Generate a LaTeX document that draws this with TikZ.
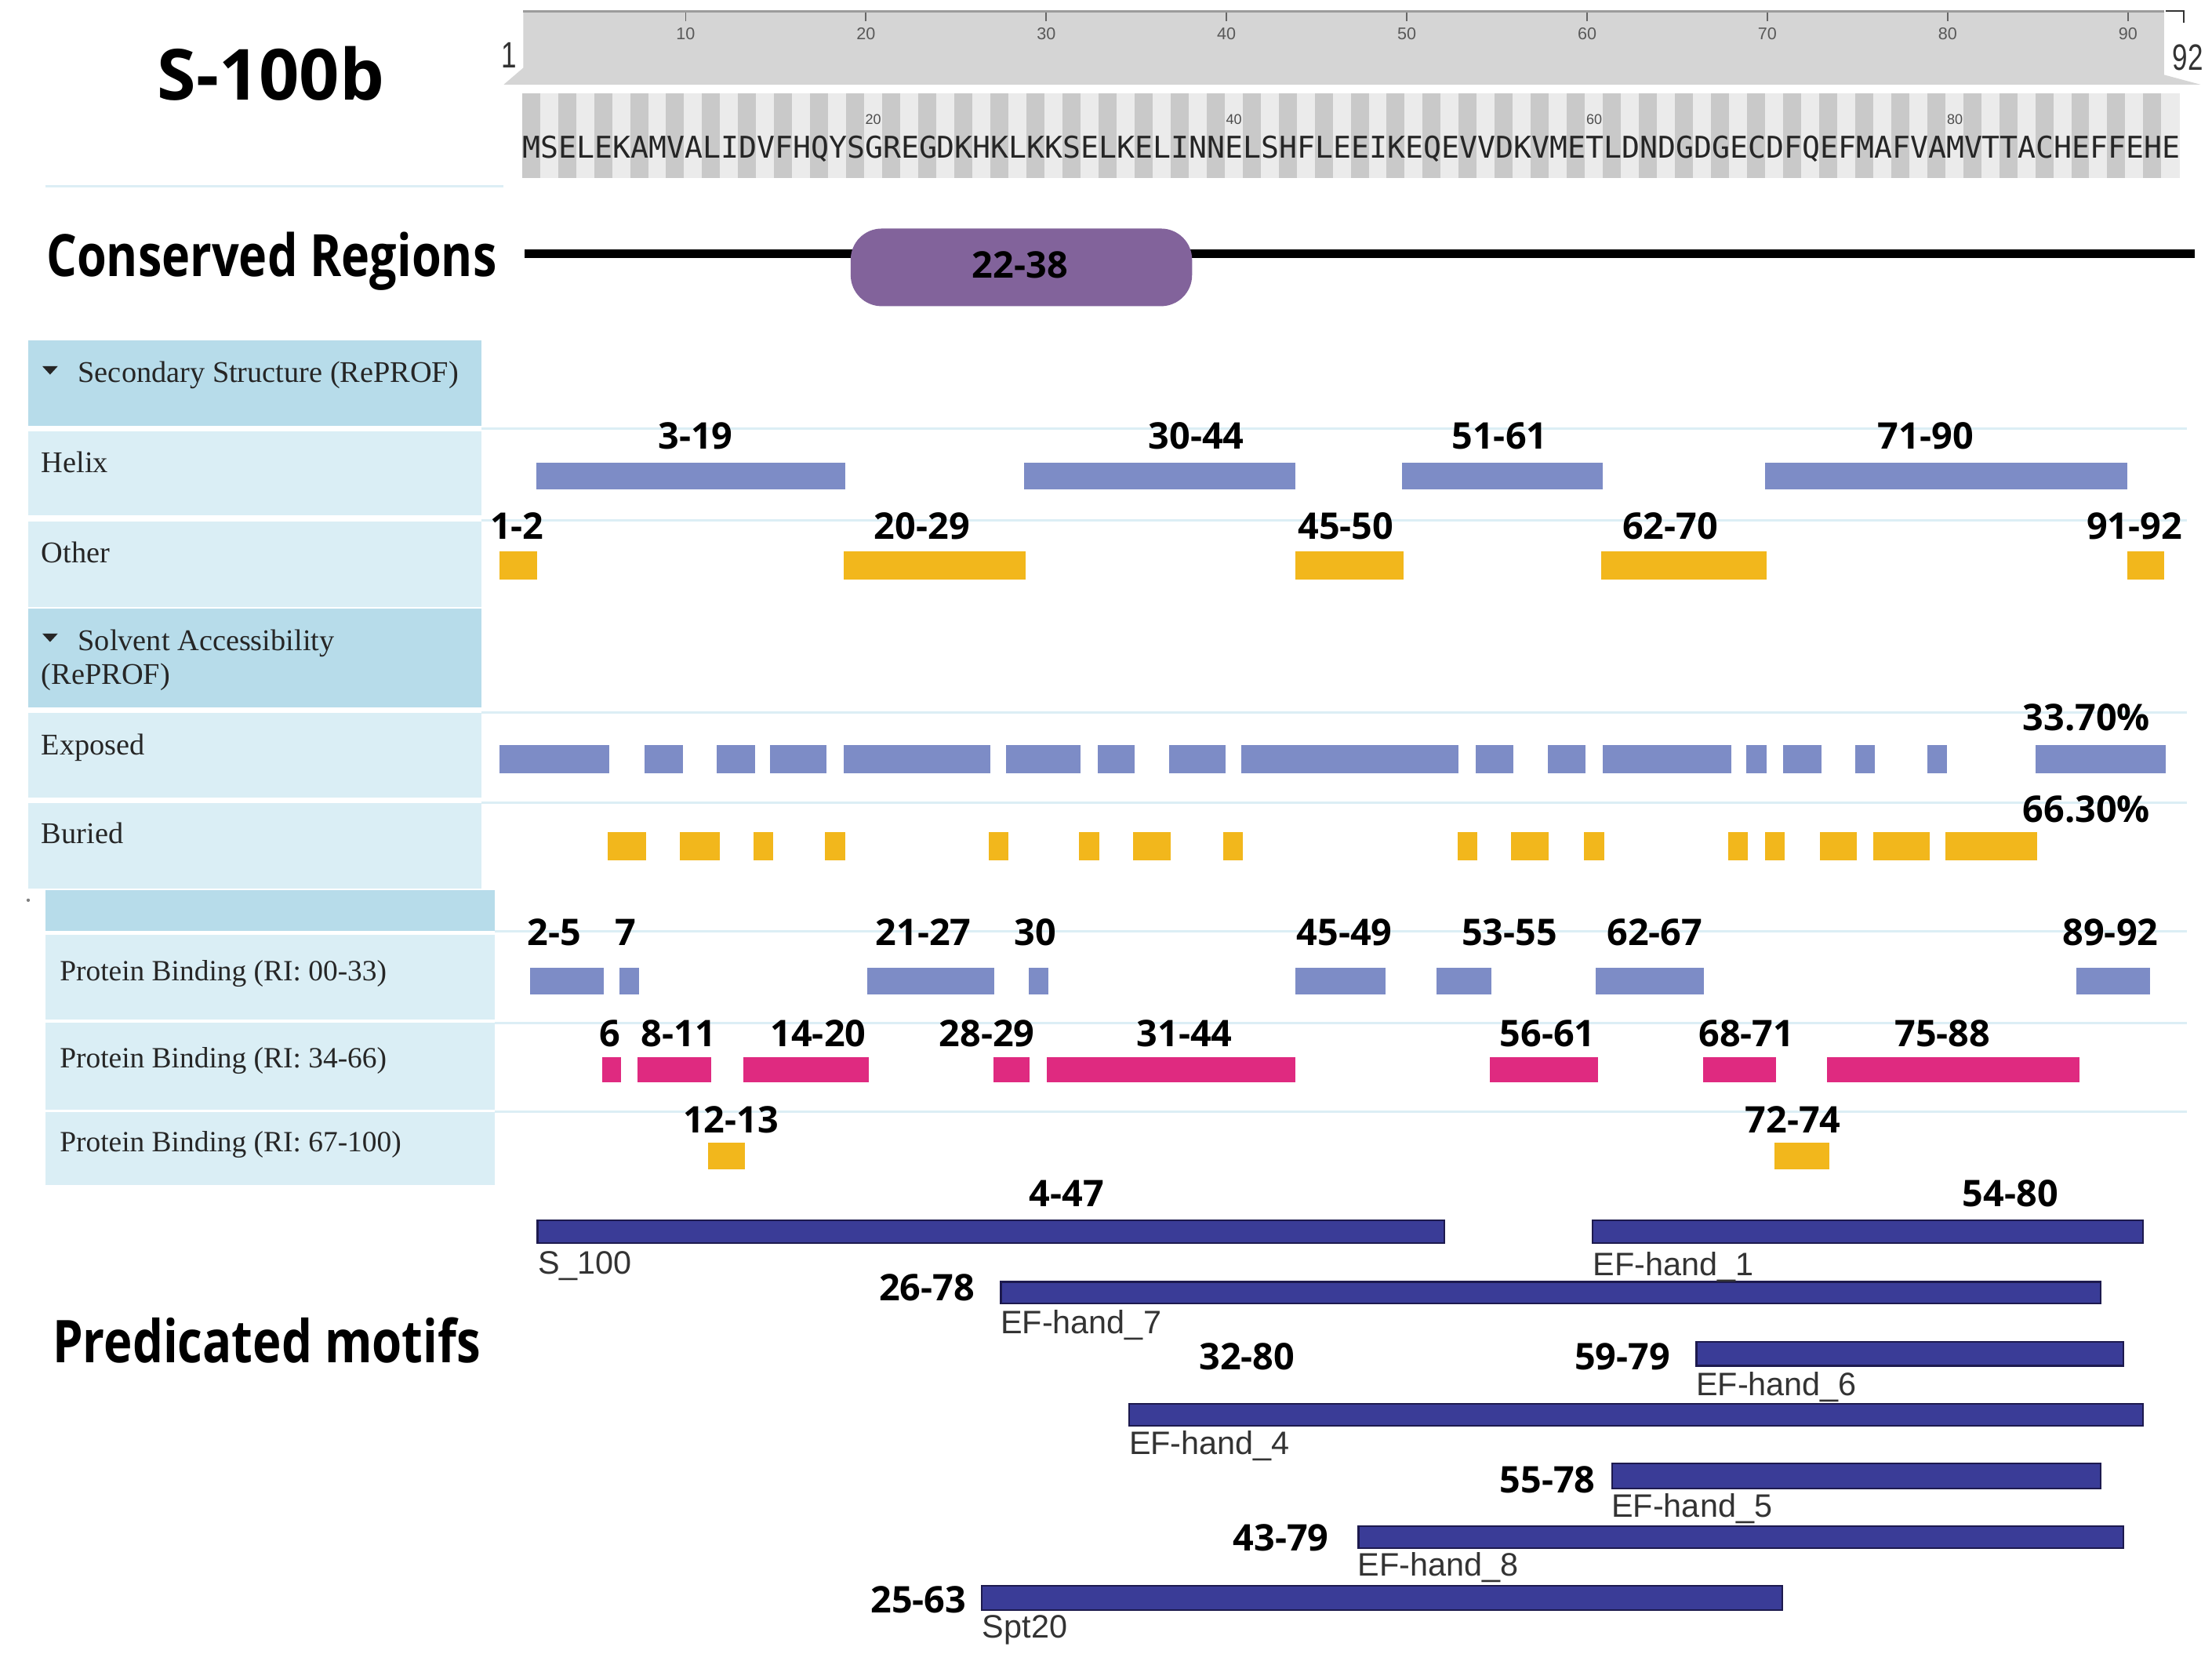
\documentclass[tikz,border=0pt]{standalone}
\usepackage{fontspec}
\setmainfont{Liberation Serif}
\newfontfamily\lblfont{Open Sans}
\newfontfamily\ttlfont[FakeStretch=0.82]{Open Sans}
\newfontfamily\motfont{Liberation Sans}
\newfontfamily\endfont[FakeStretch=0.75]{Liberation Sans}
\newfontfamily\seqfont{DejaVu Sans Mono}
\definecolor{hdr}{HTML}{B7DCEA}
\definecolor{rowc}{HTML}{DAEEF5}
\definecolor{gridc}{HTML}{DCEEF5}
\definecolor{peri}{HTML}{7D8CC6}
\definecolor{orng}{HTML}{F2B71C}
\definecolor{mag}{HTML}{DF2A80}
\definecolor{navy}{HTML}{3A3C97}
\definecolor{navyd}{HTML}{1D1A4E}
\definecolor{pillc}{HTML}{82639B}
\definecolor{rulc}{HTML}{D5D5D5}
\definecolor{rulline}{HTML}{9C9C9C}
\definecolor{stripd}{HTML}{C9C9C9}
\definecolor{stripl}{HTML}{EBEBEB}
\tikzset{
  lbl/.style={font=\lblfont\bfseries\fontsize{13}{15}\selectfont, anchor=base, inner sep=0},
  pnl/.style={font=\fontsize{10.65}{13}\selectfont, anchor=base west, inner sep=0, text=black!85},
  mname/.style={font=\motfont\fontsize{11.5}{13}\selectfont, anchor=base west, inner sep=0, text=black!80},
  motif/.style={fill=navy, draw=navyd, line width=0.6pt},
  gridline/.style={draw=gridc, line width=0.8pt},
  tickl/.style={font=\motfont\fontsize{6}{7}\selectfont, text=black!65, anchor=base, inner sep=0},
}
\begin{document}
\begin{tikzpicture}[x=0.5pt,y=-0.5pt]
\useasboundingbox (0,0) rectangle (1568,1172);
\fill[white] (0,0) rectangle (1568,1172);

% ---------- title ----------
\node[font=\lblfont\bfseries\fontsize{25}{28}\selectfont, anchor=base, inner sep=0] (title) at (192,71) {S-100b};
\draw[draw=gridc, line width=1pt] (32,132) -- (357,132);

% ---------- ruler ----------
\fill[rulc] (371,8) -- (1534,8) -- (1534,53) -- (1560,60) -- (357,60) -- (371,48) -- cycle;
\draw[rulline, line width=0.8pt] (371,8) -- (1534,8);
\foreach \k in {1,...,9} {
  \pgfmathsetmacro{\xx}{371+(10*\k-1)*12.78}
  \draw[black!60, line width=0.5pt] (\xx,9) -- (\xx,15);
  \node[tickl] (tk\k) at (\xx,28) {\number\numexpr10*\k\relax};
}
\node[font=\endfont\fontsize{13}{15}\selectfont, text=black!80, anchor=base, inner sep=0] (r1) at (361,48) {1};
\node[font=\endfont\fontsize{13}{15}\selectfont, text=black!80, anchor=base, inner sep=0] (r92) at (1551,50) {92};
\draw[black!80, line width=0.6pt] (1535,8) -- (1548,8) -- (1548,16);

% ---------- sequence ----------
\fill[stripl] (370,66) rectangle (1545,126);
\foreach \i in {0,2,...,90} {
  \fill[stripd] ({370+\i*12.77},66) rectangle ({370+(\i+1)*12.77},126);
}
\foreach \n/\xx in {20/619, 40/874.7, 60/1130, 80/1385.8} {
  \node[font=\motfont\fontsize{5}{6}\selectfont, text=black!70, anchor=base, inner sep=0] (sn\n) at (\xx,88) {\n};
}
\node[font=\seqfont\fontsize{10.61}{12}\selectfont, text=black!85, anchor=base west, inner sep=0] (seq) at (370,112) {MSELEKAMVALIDVFHQYSGREGDKHKLKKSELKELINNELSHFLEEIKEQEVVDKVMETLDNDGDGECDFQEFMAFVAMVTTACHEFFEHE};

% ---------- conserved regions ----------
\node[font=\ttlfont\bfseries\fontsize{20.7}{24}\selectfont, anchor=base, inner sep=0] (cons) at (192.5,196) {Conserved Regions};
\draw[line width=3pt] (372,180) -- (1556,180);
\fill[pillc, rounded corners=11pt] (603,162) rectangle (845,217);
\node[lbl] (pill) at (723,197) {22-38};

% ---------- left panels ----------
\fill[hdr]  (20,241)   rectangle (341,302);
\fill[rowc] (20,305.5) rectangle (341,365);
\fill[rowc] (20,369.5) rectangle (341,430);
\fill[hdr]  (20,431.5) rectangle (341,501.5);
\fill[rowc] (20,505)   rectangle (341,565);
\fill[rowc] (20,569)   rectangle (341,630);
\fill[hdr]  (32,631)   rectangle (351,660);
\fill[rowc] (32,662.5) rectangle (351,722.6);
\fill[rowc] (32,725)   rectangle (351,786.5);
\fill[rowc] (32,788)   rectangle (351,840);
\fill[black!50] (20,638) circle (1.2);
\fill[black!85] (30,259.5) -- (41,259.5) -- (35.5,265.5) -- cycle;
\fill[black!85] (30,449) -- (41,449) -- (35.5,455) -- cycle;
\node[pnl] (ss)   at (55,271) {Secondary Structure (RePROF)};
\node[pnl] (hel)  at (29,335) {Helix};
\node[pnl] (oth)  at (29,399) {Other};
\node[pnl] (sa1)  at (55,461) {Solvent Accessibility};
\node[pnl] (sa2)  at (29,485) {(RePROF)};
\node[pnl] (exp)  at (29,535) {Exposed};
\node[pnl] (bur)  at (29,598) {Buried};
\node[pnl, font=\fontsize{10.4}{13}\selectfont] (pb1)  at (42,695) {Protein Binding (RI: 00-33)};
\node[pnl, font=\fontsize{10.4}{13}\selectfont] (pb2)  at (42,757) {Protein Binding (RI: 34-66)};
\node[pnl, font=\fontsize{10.4}{13}\selectfont] (pb3)  at (42,816) {Protein Binding (RI: 67-100)};

% ---------- grid lines ----------
\foreach \yy in {304,369,505,569} { \draw[gridline] (341,\yy) -- (1550,\yy); }
\foreach \yy in {660,725,788} { \draw[gridline] (351,\yy) -- (1550,\yy); }

% ---------- helix / other ----------
\foreach \a/\b in {380/599, 726/918, 994/1136, 1251/1508} { \fill[peri] (\a,328) rectangle (\b,347); }
\foreach \a/\b in {354/381, 598/727, 918/995, 1135/1252, 1508/1534} { \fill[orng] (\a,391) rectangle (\b,411); }
\foreach \t/\xx in {3-19/493, 30-44/848, 51-61/1063, 71-90/1365} { \node[lbl] at (\xx,318) {\t}; }
\foreach \t/\xx in {1-2/366.5, 20-29/653.6, 45-50/954, 62-70/1184, 91-92/1513} { \node[lbl] at (\xx,382) {\t}; }

% ---------- exposed / buried ----------
\foreach \a/\b in {354/432, 457/484, 508/535, 546/586, 598/702, 713/766, 778/804, 829/869, 880/1034, 1046/1073, 1097/1124, 1136/1227, 1238/1252, 1264/1291, 1315/1329, 1366/1380, 1443/1535} { \fill[peri] (\a,528) rectangle (\b,548); }
\foreach \a/\b in {431/458, 482/510, 534/548, 585/599, 701/715, 765/779, 803/830, 867/881, 1033/1047, 1071/1098, 1123/1137, 1225/1239, 1251/1265, 1290/1316, 1328/1368, 1379/1444} { \fill[orng] (\a,590) rectangle (\b,610); }
\node[lbl] (pexp) at (1479,518) {33.70\%};
\node[lbl] (pbur) at (1479,583) {66.30\%};

% ---------- protein binding ----------
\foreach \a/\b in {376/428, 439/453, 615/705, 729/743, 918/982, 1018/1057, 1131/1208, 1472/1524} { \fill[peri] (\a,686) rectangle (\b,705); }
\foreach \a/\b in {427/440, 452/504, 527/616, 704/730, 742/918, 1056/1133, 1207/1259, 1295/1474} { \fill[mag] (\a,749) rectangle (\b,767); }
\foreach \a/\b in {502/528, 1258/1297} { \fill[orng] (\a,810) rectangle (\b,829); }
\foreach \t/\xx in {2-5/393, 7/443.5, 21-27/654.5, 30/734, 45-49/953, 53-55/1070, 62-67/1173, 89-92/1496} { \node[lbl] at (\xx,670) {\t}; }
\foreach \t/\xx in {6/432.6, 8-11/481, 14-20/580, 28-29/699.6, 31-44/839.6, 56-61/1097, 68-71/1238, 75-88/1377} { \node[lbl] at (\xx,742) {\t}; }
\foreach \t/\xx in {12-13/518, 72-74/1271} { \node[lbl] at (\xx,803) {\t}; }

% ---------- predicted motifs ----------
\node[font=\ttlfont\bfseries\fontsize{20.9}{24}\selectfont, anchor=base, inner sep=0] (pred) at (189,966) {Predicated motifs};
\draw[motif] (381,865) rectangle (1024,881);
\draw[motif] (1129,865) rectangle (1519,881);
\draw[motif] (709.5,908.5) rectangle (1489,924);
\draw[motif] (1202.5,951) rectangle (1505,968);
\draw[motif] (800.5,995) rectangle (1519,1010.5);
\draw[motif] (1143,1037) rectangle (1489,1055);
\draw[motif] (963,1081.5) rectangle (1505,1097);
\draw[motif] (696,1124) rectangle (1263.5,1141);
\node[mname] (m1) at (381,903) {S\_100};
\node[mname] (m2) at (1129,904) {EF-hand\_1};
\node[mname] (m3) at (709,945) {EF-hand\_7};
\node[mname] (m4) at (1202,989) {EF-hand\_6};
\node[mname] (m5) at (800,1031) {EF-hand\_4};
\node[mname] (m6) at (1142,1075) {EF-hand\_5};
\node[mname] (m7) at (962,1117) {EF-hand\_8};
\node[mname] (m8) at (696,1161) {Spt20};
\node[lbl] (r447) at (756,855) {4-47};
\node[lbl] (r5480) at (1425,855) {54-80};
\node[lbl] (r2678) at (657,922) {26-78};
\node[lbl] (r3280) at (884,971) {32-80};
\node[lbl] (r5979) at (1150,971) {59-79};
\node[lbl] (r5578) at (1097,1058) {55-78};
\node[lbl] (r4379) at (908,1099) {43-79};
\node[lbl] (r2563) at (651,1143) {25-63};
\end{tikzpicture}
\end{document}
